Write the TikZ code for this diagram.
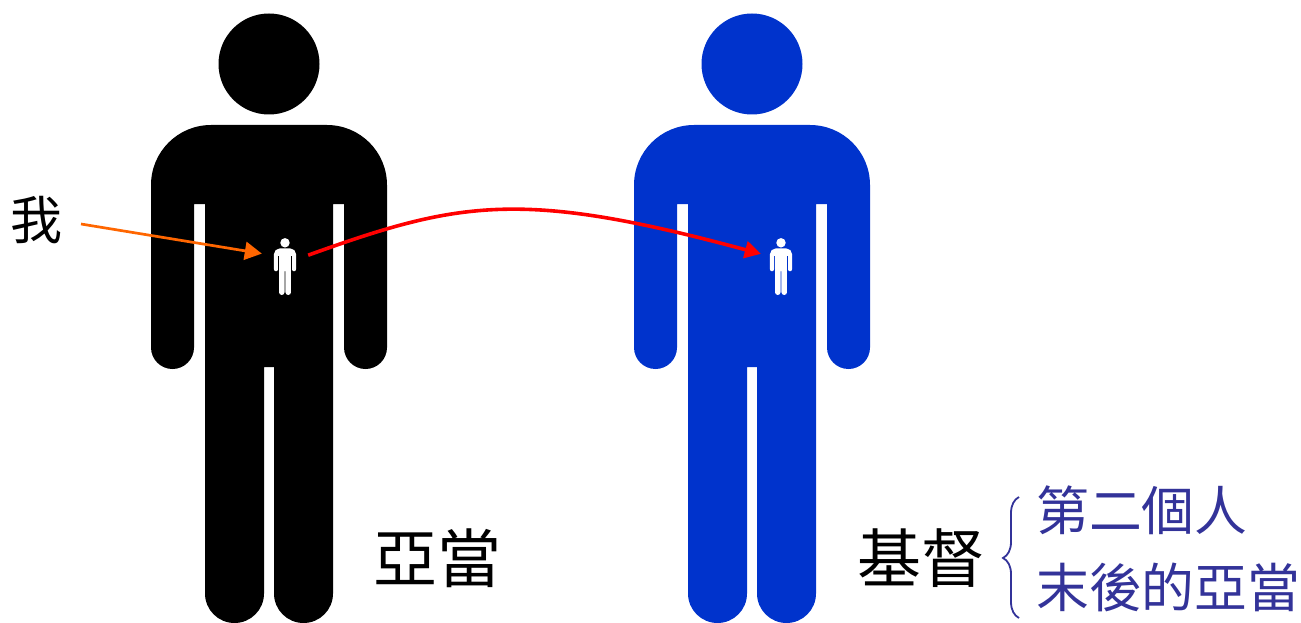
\documentclass[tikz,border=0pt]{standalone}
\usepackage{xcolor}
\usepackage{fontspec}
\usetikzlibrary{arrows.meta,decorations.pathreplacing}
\setmainfont{Noto Sans CJK TC}
\definecolor{christblue}{HTML}{0033CC}
\definecolor{notepurple}{HTML}{333399}
\definecolor{meorange}{HTML}{FF6600}
\tikzset{
	personfig/.pic={
		\fill[pic actions] (0,559) circle[radius=50.5];
		\fill[pic actions] (5,256) -- (5,29.5) arc[start angle=180,end angle=360,radius=29.5]
		-- (64,419) -- (75,419) -- (75,275.5) arc[start angle=180,end angle=360,radius=21.5]
		-- (118,438) arc[start angle=0,end angle=90,radius=60]
		-- (-58,498) arc[start angle=90,end angle=180,radius=60]
		-- (-118,275.5) arc[start angle=180,end angle=360,radius=21.5]
		-- (-75,419) -- (-64,419) -- (-64,29.5) arc[start angle=180,end angle=360,radius=29.5]
		-- (-5,256) -- cycle;
	}
}
\begin{document}
\begin{tikzpicture}[x=1pt,y=1pt,
		bigname/.style={inner sep=0pt, font=\fontsize{64}{64}\selectfont},
		notename/.style={inner sep=0pt, anchor=west, text=notepurple, font=\fontsize{52.8}{52.8}\selectfont},
		smallslot/.style={inner sep=0pt, minimum width=46pt, minimum height=58pt},
		mearrow/.style={-{Triangle[length=17pt,width=18pt]}, meorange, line width=2.7pt},
		movearrow/.style={-{Triangle[length=16pt,width=17pt]}, red, line width=3.6pt}]
	\useasboundingbox (0,0) rectangle (1301,-623);
	\pic[fill=black] at (269,-623) {personfig};
	\pic[fill=christblue] at (752,-623) {personfig};
	\pic[fill=white,scale=0.0934] at (285,-295) {personfig};
	\pic[fill=white,scale=0.0934] at (781,-295) {personfig};
	\node[smallslot] (meadam) at (285,-267) {};
	\node[smallslot, minimum width=40pt] (mechrist) at (781,-267) {};
	\node[inner sep=0pt, font=\fontsize{52}{52}\selectfont] (me) at (36,-220) {我};
	\coordinate (mestart) at (81,-224);
	\node[bigname] (adam) at (437,-558) {亞當};
	\node[bigname] (christ) at (921,-558) {基督};
	\node[notename] (second) at (1036,-510) {第二個人};
	\node[notename] (last) at (1036,-587) {末後的亞當};
	\coordinate (bracelow) at (1019,-618);
	\coordinate (bracehigh) at (1019,-497);
	\draw[mearrow] (mestart) -- (meadam.150.5);
	\draw[movearrow] (meadam.27) .. controls (459,-201) and (521,-189) .. (mechrist.147);
	\draw[notepurple, line width=1.8pt, decorate, decoration={brace,amplitude=16pt,aspect=0.496}] (bracelow) -- (bracehigh);
\end{tikzpicture}
\end{document}
